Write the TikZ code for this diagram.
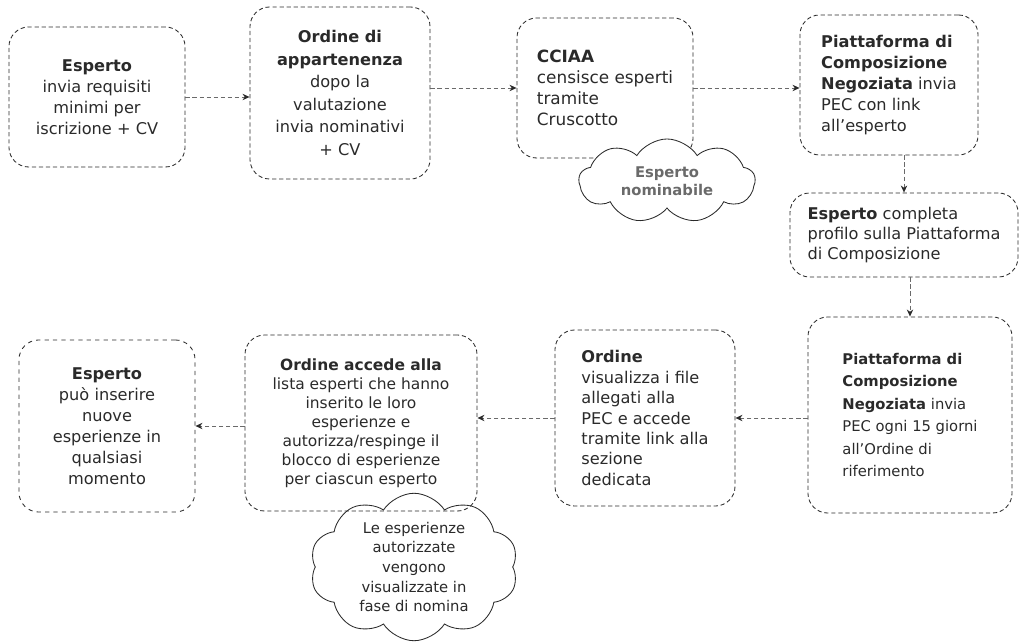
\documentclass[tikz,border=0pt]{standalone}
\usepackage{fontspec}
\setmainfont{DejaVu Sans}
\usetikzlibrary{shapes.symbols,arrows.meta}
\definecolor{inkgray}{HTML}{2A2A2A}
\definecolor{linegray}{HTML}{6A6A6A}

\begin{document}
\begin{tikzpicture}[x=0.025cm,y=-0.025cm,
    stepbox/.style={rectangle,rounded corners=14pt,draw=inkgray,densely dashed,line width=0.6pt,
      text=inkgray,align=center,inner sep=2pt,font=\fontsize{11.5}{15}\selectfont},
    leftbox/.style={stepbox,align=left},
    bubble/.style={cloud,cloud puffs=10,cloud puff arc=115,cloud ignores aspect,draw=inkgray,
      line width=0.6pt,align=center,inner sep=0pt,outer sep=0pt},
    flow/.style={draw=linegray,line width=0.5pt,densely dashed,-{Stealth[length=5pt,width=4.5pt,inkgray]}}]
          \useasboundingbox (0,0) rectangle (1021,642);
          % top row
          \node (esp) at (97,97) [stepbox,minimum width=4.4cm,minimum height=3.5cm]
          {\textbf{Esperto}\\invia requisiti\\minimi per\\iscrizione + CV};
          \node (ord) at (340,93) [stepbox,minimum width=4.5cm,minimum height=4.3cm,font=\fontsize{11.5}{16}\selectfont]
          {\textbf{Ordine di}\\\textbf{appartenenza}\\dopo la\\valutazione\\invia nominativi\\+ CV};
          \node (cciaa) at (605,88) [leftbox,minimum width=4.4cm,minimum height=3.5cm,font=\fontsize{12}{15}\selectfont]
          {\textbf{CCIAA}\\censisce esperti\\tramite\\Cruscotto};
          \node (nomin) at (667,181) [bubble,cloud puffs=9,fill=white,minimum width=4.4cm,minimum height=2.1cm,
            text=linegray,font=\fontsize{10.5}{13}\selectfont\bfseries]
          {Esperto\\nominabile};
          \node (piat) at (889,85) [leftbox,minimum width=4.45cm,minimum height=3.5cm]
          {\textbf{Piattaforma di}\\\textbf{Composizione}\\\textbf{Negoziata} invia\\PEC con link\\all'esperto};
          % right column
          \node (compl) at (904,235) [leftbox,minimum width=5.7cm,minimum height=2.1cm,font=\fontsize{11.5}{14}\selectfont]
          {\textbf{Esperto} completa\\profilo sulla Piattaforma\\di Composizione};
          \node (piatb) at (910,415) [leftbox,minimum width=5.1cm,minimum height=4.9cm,font=\fontsize{10.5}{16}\selectfont]
          {\textbf{Piattaforma di}\\\textbf{Composizione}\\\textbf{Negoziata} invia\\PEC ogni 15 giorni\\all'Ordine di\\riferimento};
          % bottom row
          \node (vis) at (645,418) [leftbox,minimum width=4.5cm,minimum height=4.4cm,font=\fontsize{11.5}{14.5}\selectfont]
          {\textbf{Ordine}\\visualizza i file\\allegati alla\\PEC e accede\\tramite link alla\\sezione\\dedicata};
          \node (fase) at (414,567) [bubble,fill=white,minimum width=5.2cm,minimum height=3.6cm,
            text=inkgray,font=\fontsize{10.5}{14}\selectfont]
          {Le esperienze\\autorizzate\\vengono\\visualizzate in\\fase di nomina};
          \node (acc) at (361,423) [stepbox,minimum width=5.8cm,minimum height=4.4cm,font=\fontsize{11}{13.5}\selectfont]
          {\textbf{Ordine accede alla}\\lista esperti che hanno\\inserito le loro\\esperienze e\\autorizza/respinge il\\blocco di esperienze\\per ciascun esperto};
          \node (esb) at (107,426) [stepbox,dashed,minimum width=4.4cm,minimum height=4.3cm,font=\fontsize{11.5}{15}\selectfont]
          {\textbf{Esperto}\\può inserire\\nuove\\esperienze in\\qualsiasi\\momento};
          % connectors
          \draw[flow] (esp.east) -- (ord.west |- esp.east);
          \draw[flow] (ord.east |- cciaa.east) -- (cciaa.east -| cciaa.west) ;
          \draw[flow] (cciaa.east) -- (piat.west |- cciaa.east);
          \draw[flow] (compl.north |- piat.south) -- (compl.north);
          \draw[flow] (compl.south -| piatb.north) -- (piatb.north);
          \draw[flow] (piatb.west |- vis.east) -- (vis.east);
          \draw[flow] (vis.west) -- (acc.east |- vis.west);
          \draw[flow] (acc.west |- esb.east) -- (esb.east);
        \end{tikzpicture}
\end{document}
